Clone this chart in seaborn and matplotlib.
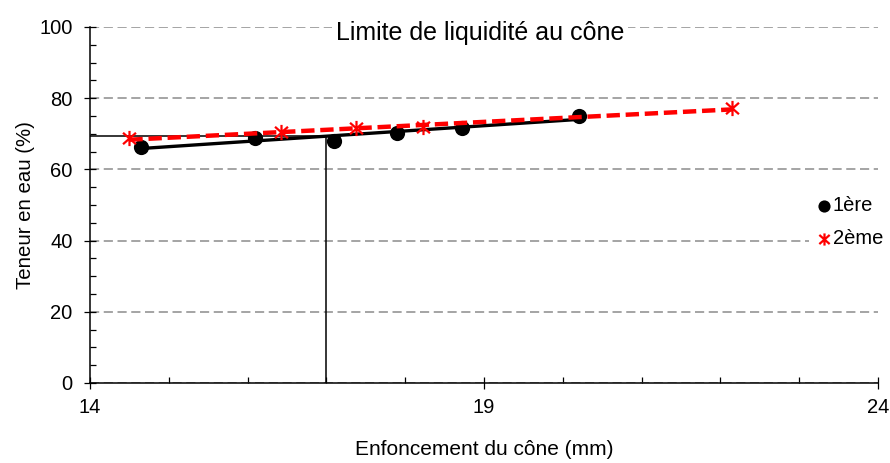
import matplotlib
matplotlib.use("Agg")
import matplotlib.pyplot as plt
from matplotlib.path import Path
from matplotlib.ticker import MultipleLocator
import seaborn as sns

# ── data ─────────────────────────────────────────────────────────────────────
enfoncement_1 = [14.65, 16.09, 17.10, 17.90, 18.72, 20.20]   # mm
teneur_1      = [66.4, 68.7, 68.1, 70.2, 71.5, 75.0]         # %
enfoncement_2 = [14.50, 16.42, 17.38, 18.22, 22.15]
teneur_2      = [68.7, 70.5, 71.5, 71.8, 77.2]

ENF_REF = 17.0      # enfoncement de référence (mm)
W_L     = 69.5      # limite de liquidité lue à 17 mm (%)

X_TICKS = [14, 19, 24]
Y_TICKS = [0, 20, 40, 60, 80, 100]

# ── style ────────────────────────────────────────────────────────────────────
sns.set_style("white")
plt.rcParams["font.family"] = ["Liberation Sans", "DejaVu Sans"]
plt.rcParams.update({
    "text.color": "black",
    "axes.labelcolor": "black",
    "xtick.color": "black",
    "ytick.color": "black",
})

# Excel-like star: vertical bar + X
STAR = Path(
    [(0, -1), (0, 1), (-0.85, -0.75), (0.85, 0.75), (-0.85, 0.75), (0.85, -0.75)],
    [Path.MOVETO, Path.LINETO, Path.MOVETO, Path.LINETO, Path.MOVETO, Path.LINETO],
)

fig = plt.figure(figsize=(8.9, 4.63), dpi=100)
ax = fig.add_axes([90 / 890, 80 / 463, 788 / 890, 356 / 463])

# reference lines at 17 mm
ax.vlines(ENF_REF, 0, W_L, color="black", lw=1.1, zorder=2)
ax.hlines(W_L, X_TICKS[0], ENF_REF, color="black", lw=1.1, zorder=2)

# trend lines (linear fits, truncated to data range)
sns.regplot(x=enfoncement_1, y=teneur_1, scatter=False, ci=None, ax=ax,
            color="black", line_kws=dict(lw=2.4, zorder=3))
sns.regplot(x=enfoncement_2, y=teneur_2, scatter=False, ci=None, ax=ax,
            color="#ff0000", line_kws=dict(lw=3.2, ls=(0, (3, 1.3)), zorder=5))

sns.scatterplot(x=enfoncement_1, y=teneur_1, ax=ax, marker="o", s=120,
                color="black", edgecolor="black", linewidth=0, zorder=4,
                label="1ère")
sns.scatterplot(x=enfoncement_2, y=teneur_2, ax=ax, marker=STAR, s=120,
                color="#ff0000", edgecolor="#ff0000", linewidth=1.6, zorder=6,
                label="2ème")

# ── axes ─────────────────────────────────────────────────────────────────────
ax.set_xlim(X_TICKS[0], X_TICKS[-1])
ax.set_ylim(Y_TICKS[0], Y_TICKS[-1])
ax.set_xticks(X_TICKS)
ax.set_yticks(Y_TICKS)
ax.xaxis.set_minor_locator(MultipleLocator(1))
ax.yaxis.set_minor_locator(MultipleLocator(5))
ax.tick_params(which="major", direction="inout", length=9, width=0.9,
               labelsize=14.5, color="black", labelcolor="black")
ax.tick_params(axis="x", which="major", pad=6)
ax.tick_params(axis="y", which="major", pad=8)
ax.tick_params(which="minor", direction="in", length=4.5, width=0.9, color="black")
ax.tick_params(which="both", bottom=True, left=True)

ax.yaxis.grid(True, which="major", color="#8c8c8c", lw=1.1, ls=(0, (6, 3)))
ax.set_axisbelow(True)
for side in ("top", "right"):
    ax.spines[side].set_visible(False)
for side in ("left", "bottom"):
    ax.spines[side].set_color("black")
    ax.spines[side].set_linewidth(1.1)

ax.set_xlabel("Enfoncement du cône (mm)", fontsize=15, color="black")
ax.set_ylabel("Teneur en eau (%)", fontsize=14.7, color="black")
ax.xaxis.set_label_coords(0.5, -0.16)
ax.yaxis.set_label_coords(-0.07, 0.5)

ax.text(0.495, 0.983, "Limite de liquidité au cône", transform=ax.transAxes,
        ha="center", va="center", fontsize=18, color="black", zorder=10,
        bbox=dict(facecolor="white", edgecolor="none", pad=3))

leg = ax.legend(loc="center left", bbox_to_anchor=(0.912, 0.452),
                borderaxespad=0, borderpad=0.4, fontsize=14.5,
                handlelength=0.7, handletextpad=0.1, labelspacing=0.7,
                markerscale=0.8, frameon=True, facecolor="white",
                edgecolor="none", framealpha=1)
for t in leg.get_texts():
    t.set_color("black")
leg.set_zorder(10)

fig.savefig("out.png", dpi=100)
